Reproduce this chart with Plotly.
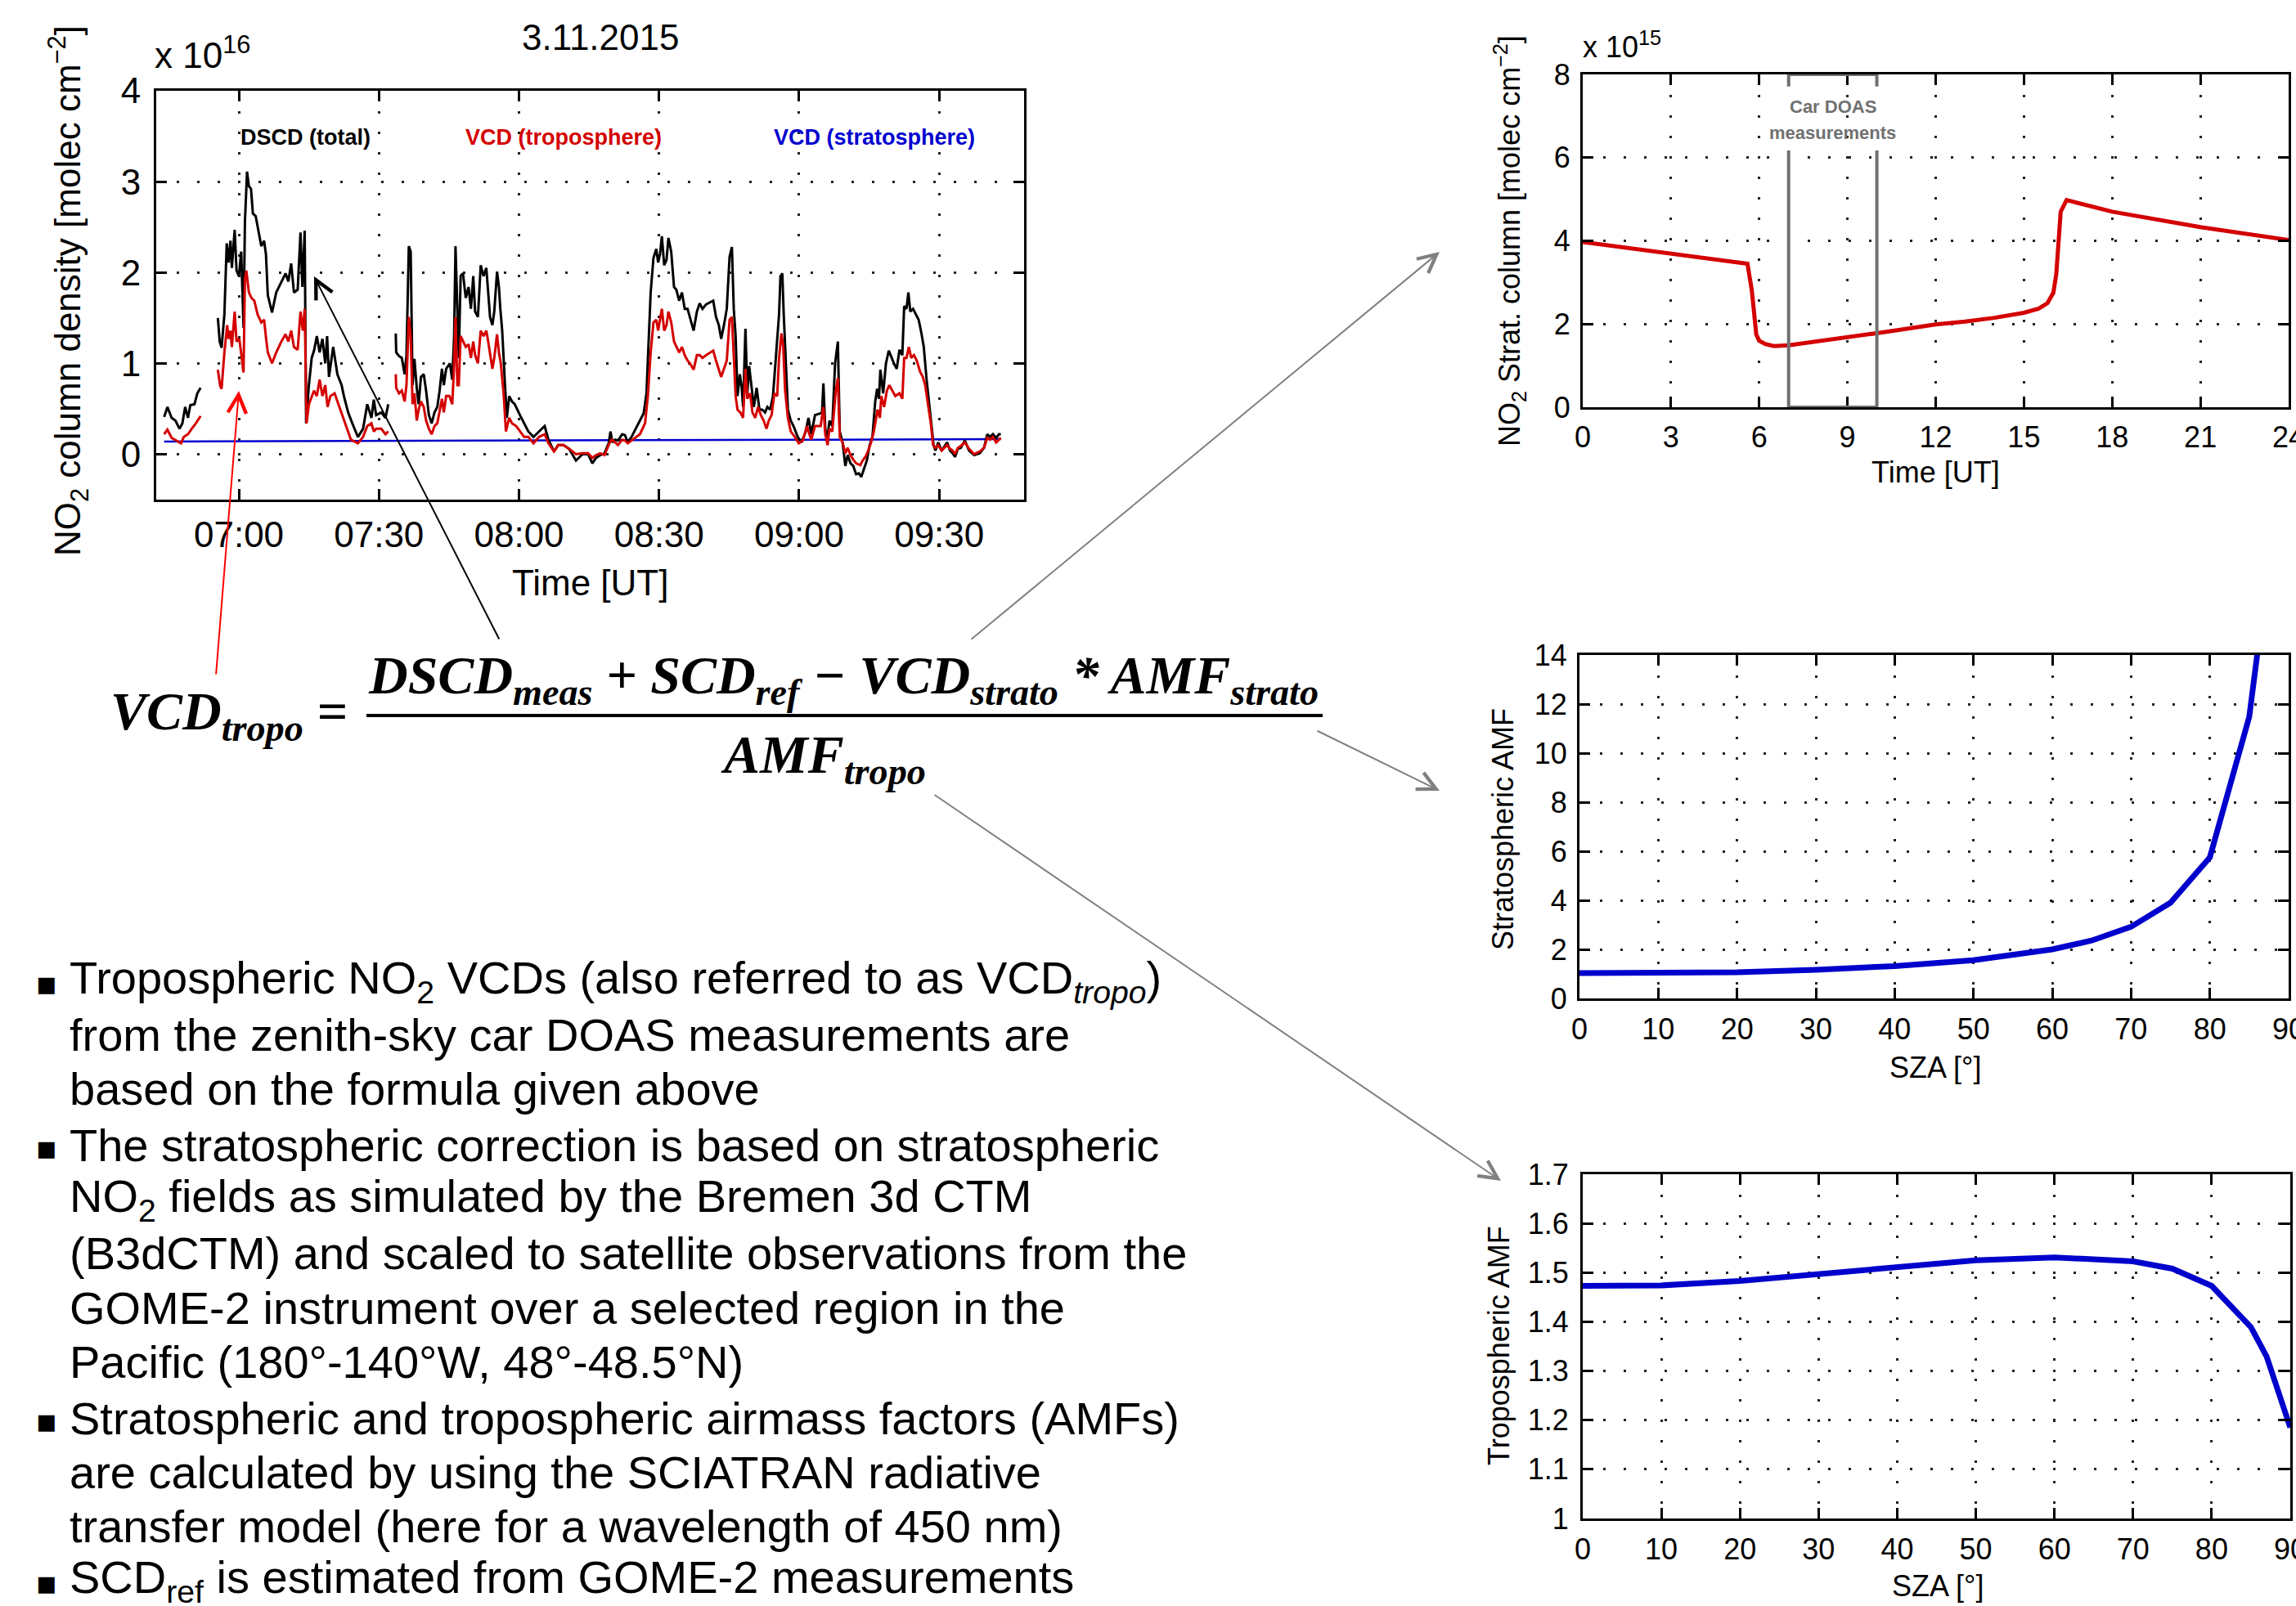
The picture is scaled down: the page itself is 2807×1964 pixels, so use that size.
import plotly.graph_objects as go

W, H = 2807, 1964

# ---------------- data ----------------
# Left panel: time in minutes after 07:00 UT, values in 1e16 molec cm-2 (None = gap)
t_dscd = [-16.0, -15.3, -14.4, -13.6, -12.7, -12.1, -11.5, -10.9, -10.4, -9.5, -8.9, -8.2, None,
          -6.7, None,
          -4.5, -4.1, -3.7, -3.1, -2.6, -2.2, -1.8, -1.5, -0.9, -0.5, 0.0, 0.5, 1.0, 1.3, 1.75, 2.15, 2.6,
          3.0, 3.6, 4.2, 4.8, 5.4, 5.8, 6.2, 7.1, 8.0, 9.1, 10.0, 10.6, 11.2, 11.8, 12.6, 13.2, 13.6, 14.1,
          14.4, 15.0, 15.6, 16.1, 16.7, 17.3, 17.9, 18.5, 18.9, 19.3, 20.2, 21.1, 22.0, 22.5, 23.4, 24.3,
          25.5, 26.6, 27.5, 28.4, 28.9, 29.4, 30.5, 31.4, 32.0, None,
          33.6, 33.7, 34.3, 34.9, 35.5, 35.9, 36.4, 36.8, 37.2, 37.6, 38.1, 38.5, 39.0, 39.6, 40.1, 40.7,
          41.3, 41.9, 42.5, 43.0, 43.5, 43.9, 44.4, 44.8, 45.2, 45.7, 46.1, 46.4, 46.8, 47.1, 47.5, 48.0,
          48.6, 49.2, 49.7, 50.2, 50.6, 51.2, 51.8, 52.4, 53.0, 53.4, 53.8, 54.3, 54.7, 55.3, 55.7, 56.0,
          56.4, 57.0, 57.4, 57.9, 58.5, 59.1, 59.6, 60.2, 61.1, 62.0, 63.1, 64.3, 65.5, 66.3, 67.5, 68.4,
          69.5, 70.7, 72.2, 73.6, 74.8, 75.7, 76.5, 77.4, 78.3, 79.2, 79.6, 80.0, 80.6, 81.2, 82.1, 82.7,
          83.3, 84.1, 85.3, 86.7, 87.3, 88.2, 88.8, 89.4, 89.8, 90.2, 90.6, 91.1, 91.6, 92.0, 92.6, 93.2,
          93.7, 94.3, 94.9, 95.5, 96.1, 96.6, 97.4, 98.1, 98.7, 99.3, 100.1, 101.6, 102.2, 102.8, 103.3,
          103.9, 104.5, 105.1, 105.6, 106.0, 106.4, 106.8, 107.3, 107.7, 108.0, 108.5, 108.9, 109.3, 109.8,
          110.3, 110.9, 111.5, 112.1, 112.7, 113.2, 113.8, 114.4, 114.9, 115.3, 115.7, 116.0, 116.4, 116.7,
          117.2, 117.6, 118.2, 118.8, 119.7, 120.5, 121.4, 122.0, 122.6, 123.4, 124.6, 124.9, 125.2, 125.6,
          126.0, 126.5, 127.1, 127.7, 128.3, 128.7, 129.3, 129.9, 130.4, 131.0, 131.6, 132.2, 132.8, 133.3,
          133.9, 134.5, 135.1, 135.7, 136.3, 136.7, 137.1, 137.4, 138.0, 138.6, 139.2, 139.8, 140.3, 140.9,
          141.5, 142.1, 142.5, 143.0, 143.4, 143.8, 144.4, 145.0, 145.6, 146.2, 146.7, 147.3, 147.9, 148.3,
          148.8, 149.2, 149.8, 150.5, 151.1, 151.7, 152.3, 152.9, 153.4, 154.0, 154.6, 155.5, 156.4, 157.5,
          158.7, 159.6, 160.3, 160.9, 161.5, 162.2, 162.8, 163.2]
dscd = [0.41, 0.52, 0.40, 0.37, 0.28, 0.34, 0.52, 0.40, 0.54, 0.55, 0.67, 0.73, None,
        0.90, None,
        1.50, 1.24, 1.17, 1.54, 2.32, 2.11, 2.35, 2.05, 2.47, 2.02, 1.96, 2.23, 1.39, 2.56, 3.11, 2.95, 2.92,
        2.65, 2.62, 2.44, 2.29, 2.35, 2.20, 1.75, 1.56, 1.78, 1.90, 1.99, 1.90, 2.10, 1.78, 1.81, 2.44, 1.84, 2.46,
        0.34, 0.76, 1.06, 1.14, 1.30, 1.12, 1.27, 1.00, 1.30, 0.85, 1.18, 0.88, 0.76, 0.64, 0.46, 0.34,
        0.19, 0.28, 0.55, 0.40, 0.60, 0.43, 0.46, 0.40, 0.55, None,
        1.33, 1.12, 1.08, 1.06, 0.88, 1.09, 2.29, 2.23, 0.76, 1.05, 0.73, 0.55, 0.85, 0.88, 0.70, 0.43,
        0.34, 0.46, 0.52, 0.70, 0.94, 0.76, 0.94, 0.97, 1.00, 0.82, 1.30, 2.29, 1.54, 1.06, 1.96, 1.99,
        1.72, 1.84, 1.60, 1.96, 1.57, 1.51, 2.08, 1.96, 2.05, 1.78, 1.51, 1.42, 1.57, 2.01, 1.84, 1.60,
        1.36, 0.76, 0.40, 0.64, 0.58, 0.55, 0.49, 0.43, 0.34, 0.25, 0.19, 0.25, 0.31, 0.16, 0.03, 0.10,
        0.10, 0.06, -0.07, 0.00, 0.00, -0.10, -0.04, -0.01, 0.01, 0.12, 0.25, 0.13, 0.16, 0.15, 0.22, 0.21,
        0.13, 0.19, 0.31, 0.45, 0.67, 1.78, 2.16, 2.26, 2.11, 2.20, 2.40, 2.08, 2.14, 2.38, 2.23, 1.84,
        1.81, 1.69, 1.78, 1.60, 1.60, 1.51, 1.36, 1.57, 1.66, 1.60, 1.65, 1.69, 1.51, 1.42, 1.27,
        1.42, 1.60, 2.17, 2.28, 1.60, 1.30, 0.64, 0.88, 0.73, 0.52, 1.38, 0.67, 0.97, 0.76,
        0.52, 0.73, 0.49, 0.49, 0.46, 0.52, 0.49, 0.64, 0.97, 1.27, 1.54, 1.96, 1.99, 1.54,
        0.94, 0.49, 0.37, 0.31, 0.19, 0.13, 0.25, 0.40, 0.22, 0.43, 0.45, 0.46, 0.78, 0.28,
        0.16, 0.37, 0.31, 1.00, 1.24, 0.25, 0.13, -0.13, -0.01, -0.10, -0.13, -0.22, -0.21, -0.25,
        -0.16, -0.07, 0.10, 0.19, 0.58, 0.72, 0.61, 0.93, 0.67, 1.00, 1.14, 1.06, 1.00, 0.94,
        1.15, 1.09, 1.63, 1.60, 1.78, 1.57, 1.60, 1.54, 1.48, 1.33, 1.18, 0.82, 0.55, 0.34,
        0.10, 0.04, 0.13, 0.04, 0.09, 0.13, 0.04, 0.01, -0.03, 0.06, 0.07, 0.15, 0.04, -0.01,
        0.01, 0.07, 0.22, 0.19, 0.22, 0.18, 0.22, 0.22]

t_vcd = [-16.0, -15.3, -14.4, -13.3, -12.4, -11.8, -10.9, -10.1, -9.2, -8.2, None,
         -6.7, None,
         -4.5, -4.0, -3.7, -3.1, -2.5, -2.2, -1.8, -1.5, -0.9, -0.5, 0.1, 0.5, 1.0, 1.3, 1.6, 2.15, 2.7,
         3.3, 4.0, 4.8, 5.4, 5.9, 6.2, 7.1, 8.0, 9.1, 10.0, 10.6, 11.2, 11.8, 12.6, 13.2, 13.7, 14.1,
         14.5, 15.0, 15.6, 16.1, 16.7, 17.3, 17.9, 18.5, 19.0, 19.6, 20.5, 21.1, 22.0, 23.1, 24.0,
         25.5, 26.6, 27.5, 28.4, 28.9, 29.4, 30.5, 31.4, 32.0, None,
         33.6, 33.7, 34.3, 34.9, 35.5, 35.9, 36.4, 36.8, 37.2, 37.6, 38.1, 38.5, 39.0, 39.6, 40.1, 40.7,
         41.3, 41.9, 42.5, 43.0, 43.5, 43.9, 44.4, 45.1, 45.7, 46.1, 46.4, 46.8, 47.1, 47.5, 48.0,
         48.6, 49.2, 49.7, 50.2, 50.6, 51.2, 51.8, 52.4, 53.0, 53.4, 53.8, 54.3, 54.7, 55.3, 55.7, 56.1,
         56.7, 57.2, 57.9, 58.5, 59.4, 60.2, 61.1, 62.0, 63.1, 64.3, 65.5, 66.3, 67.5, 68.4,
         69.5, 70.7, 72.2, 73.6, 74.8, 75.7, 76.5, 77.4, 78.3, 79.2, 79.8, 80.6, 81.2, 82.1, 82.7,
         83.3, 84.4, 85.9, 87.0, 87.6, 88.2, 88.8, 89.4, 89.8, 90.2, 90.6, 91.1, 91.6, 92.0, 92.6, 93.2,
         93.7, 94.3, 94.9, 95.5, 96.1, 96.6, 97.4, 98.1, 98.7, 99.3, 100.1, 101.6, 102.2, 102.8, 103.3,
         103.9, 104.5, 105.1, 105.6, 106.0, 106.4, 106.8, 107.4, 108.0, 108.5, 108.9, 109.5, 110.0,
         110.6, 111.2, 111.8, 112.4, 113.0, 113.5, 114.1, 114.7, 115.3, 115.7, 116.2, 116.6,
         117.0, 117.6, 118.2, 119.1, 119.9, 120.8, 121.7, 122.0, 122.6, 123.4, 124.6, 125.2, 125.6,
         126.1, 126.5, 127.1, 127.8, 128.3, 128.7, 129.3, 129.9, 130.4, 131.0, 131.6, 132.2, 133.1,
         133.6, 134.2, 134.8, 135.4, 136.0, 136.4, 136.8, 137.3, 137.6, 138.2, 138.8, 139.3, 139.9, 140.6,
         141.5, 142.1, 142.5, 143.0, 143.5, 144.0, 144.6, 145.2, 145.9, 146.5, 147.0, 147.6, 148.2,
         148.7, 149.2, 149.8, 150.5, 151.1, 151.7, 152.3, 152.9, 153.4, 154.0, 154.6, 155.5, 156.4, 157.5,
         158.7, 159.6, 160.3, 160.9, 161.5, 162.2, 162.8, 163.2]
vcd_tropo = [0.22, 0.27, 0.18, 0.15, 0.12, 0.19, 0.22, 0.28, 0.34, 0.42, None,
             0.54, None,
             0.93, 0.75, 0.72, 1.12, 1.42, 1.27, 1.36, 1.18, 1.57, 1.24, 1.27, 1.12, 0.90, 1.93, 2.02, 1.78, 1.72,
             1.69, 1.54, 1.45, 1.48, 1.24, 1.12, 1.00, 1.12, 1.24, 1.32, 1.24, 1.36, 1.18, 1.15, 1.57, 1.36, 1.60,
             0.34, 0.55, 0.64, 0.70, 0.64, 0.82, 0.64, 0.76, 0.52, 0.64, 0.67, 0.58, 0.46, 0.28, 0.16,
             0.12, 0.19, 0.31, 0.34, 0.25, 0.28, 0.28, 0.22, 0.25, None,
             0.88, 0.73, 0.67, 0.70, 0.58, 0.76, 1.51, 1.30, 0.55, 0.67, 0.37, 0.49, 0.58, 0.52, 0.37, 0.28,
             0.22, 0.31, 0.34, 0.46, 0.61, 0.46, 0.64, 0.64, 0.55, 0.97, 1.51, 0.76, 0.76, 1.30, 1.24,
             1.18, 1.21, 1.06, 1.24, 1.09, 1.00, 1.36, 1.30, 1.36, 1.24, 1.09, 0.94, 1.06, 1.32, 1.12, 1.00,
             0.67, 0.25, 0.40, 0.34, 0.31, 0.25, 0.19, 0.19, 0.12, 0.19, 0.22, 0.12, 0.03, 0.10,
             0.10, 0.06, 0.00, 0.01, 0.01, -0.04, -0.01, 0.01, -0.01, 0.10, 0.16, 0.13, 0.10, 0.16, 0.15,
             0.12, 0.16, 0.22, 0.34, 0.64, 1.12, 1.45, 1.48, 1.36, 1.48, 1.60, 1.36, 1.42, 1.57, 1.45, 1.24,
             1.18, 1.12, 1.18, 1.09, 1.03, 1.00, 0.93, 1.09, 1.09, 1.06, 1.09, 1.14, 1.03, 0.94, 0.85,
             0.94, 1.03, 1.48, 1.51, 1.09, 0.64, 0.49, 0.46, 0.40, 0.94, 0.61, 0.67, 0.46,
             0.40, 0.52, 0.43, 0.37, 0.28, 0.37, 0.43, 0.67, 0.64, 1.06, 1.33, 1.18,
             0.70, 0.40, 0.25, 0.19, 0.12, 0.15, 0.31, 0.25, 0.16, 0.31, 0.31, 0.52, 0.22,
             0.10, 0.28, 0.25, 0.67, 0.84, 0.19, 0.13, 0.01, 0.07, -0.01, -0.06, -0.10, -0.12,
             -0.07, -0.03, 0.04, 0.13, 0.25, 0.37, 0.49, 0.40, 0.64, 0.52, 0.70, 0.76, 0.70, 0.64,
             0.67, 0.61, 1.06, 1.06, 1.18, 1.06, 1.09, 1.03, 0.91, 0.85, 0.76, 0.55, 0.34,
             0.10, 0.07, 0.10, 0.04, 0.07, 0.10, 0.06, 0.04, 0.00, 0.07, 0.09, 0.13, 0.06, 0.00,
             0.03, 0.07, 0.18, 0.16, 0.19, 0.13, 0.16, 0.18]

t_strat = [-16.0, 30.0, 60.0, 90.0, 120.0, 163.2]
vcd_strato = [0.14, 0.145, 0.15, 0.155, 0.16, 0.165]

time_tickvals = [7.0, 7.5, 8.0, 8.5, 9.0, 9.5]
time_ticktext = ["07:00", "07:30", "08:00", "08:30", "09:00", "09:30"]

# Top-right panel: stratospheric NO2 column (1e15 molec cm-2) vs hour UT
strat_hour = [0, 3, 5.6, 5.75, 5.9, 6.0, 6.2, 6.5, 6.8, 7.0, 10.0, 12.0, 13.0, 14.0, 15.0, 15.5, 15.8,
              16.0, 16.1, 16.25, 16.45, 18.0, 21.0, 24.0]
strat_col = [3.97, 3.69, 3.45, 2.8, 1.75, 1.6, 1.52, 1.47, 1.47, 1.49, 1.78, 1.99, 2.06, 2.15, 2.27, 2.37, 2.5,
             2.75, 3.2, 4.7, 4.98, 4.7, 4.33, 4.02]
car_doas_window = [7, 10]

# Middle-right: stratospheric AMF vs SZA
sza_strat = [0, 10, 20, 30, 40, 50, 60, 65, 70, 75, 80, 85, 90]
amf_strat = [1.03, 1.03, 1.07, 1.17, 1.32, 1.56, 2.0, 2.36, 2.92, 3.9, 5.75, 11.48, 24.0]

# Bottom-right: tropospheric AMF vs SZA
sza_trop = [0, 10, 20, 30, 40, 50, 60, 65, 70, 75, 80, 85, 87, 90]
amf_trop = [1.473, 1.474, 1.483, 1.497, 1.513, 1.525, 1.531, 1.528, 1.523, 1.508, 1.473, 1.389, 1.329, 1.185]

# ---------------- helpers ----------------
def hours(ts):
    return [None if t is None else 7 + t / 60.0 for t in ts]

def dx(a, b):
    return [a / W, b / W]

def dy(top, bottom):
    return [1 - bottom / H, 1 - top / H]

def px(xp):
    return xp / W

def py(yp):
    return 1 - yp / H

SANS = "Liberation Sans, Arial, sans-serif"

def axis_style(size, **kw):
    d = dict(showline=True, linecolor="black", linewidth=3, mirror="ticks",
             ticks="inside", ticklen=13, tickwidth=2.5, tickcolor="black",
             showgrid=True, gridcolor="#222222", gridwidth=2.5, griddash="3px,22px",
             zeroline=False, tickfont=dict(family=SANS, size=size, color="black"),
             automargin=False, ticklabeloverflow="allow", fixedrange=True)
    d.update(kw)
    return d

fig = go.Figure()

# Left panel traces
fig.add_trace(go.Scatter(x=hours(t_strat), y=vcd_strato, mode="lines",
                         line=dict(color="#0000d0", width=2.5), xaxis="x", yaxis="y"))
fig.add_trace(go.Scatter(x=hours(t_dscd), y=dscd, mode="lines",
                         line=dict(color="black", width=3), xaxis="x", yaxis="y"))
fig.add_trace(go.Scatter(x=hours(t_vcd), y=vcd_tropo, mode="lines",
                         line=dict(color="#d40000", width=3), xaxis="x", yaxis="y"))

# Right panels
fig.add_trace(go.Scatter(x=strat_hour, y=strat_col, mode="lines",
                         line=dict(color="#d40000", width=5), xaxis="x2", yaxis="y2"))
fig.add_trace(go.Scatter(x=sza_strat, y=amf_strat, mode="lines",
                         line=dict(color="#0000cc", width=7), xaxis="x3", yaxis="y3"))
fig.add_trace(go.Scatter(x=sza_trop, y=amf_trop, mode="lines",
                         line=dict(color="#0000cc", width=7), xaxis="x4", yaxis="y4"))

fig.update_layout(
    template="none",
    width=W, height=H, autosize=False,
    margin=dict(l=0, r=0, t=0, b=0, pad=0),
    paper_bgcolor="white", plot_bgcolor="white",
    showlegend=False,
    font=dict(family=SANS, color="black"),
    xaxis=axis_style(44, domain=dx(191, 1252), range=[6.705, 9.803],
                     tickvals=time_tickvals, ticktext=time_ticktext, ticklabelstandoff=2),
    yaxis=axis_style(44, domain=dy(111, 611), range=[-0.5, 4], tickvals=[0, 1, 2, 3, 4],
                     ticklabelstandoff=7),
    xaxis2=axis_style(36, domain=dx(1935, 2798), range=[0, 24], tickvals=list(range(0, 25, 3)),
                      anchor="y2", ticklabelstandoff=3),
    yaxis2=axis_style(36, domain=dy(91, 498), range=[0, 8], tickvals=[0, 2, 4, 6, 8],
                      anchor="x2", ticklabelstandoff=5),
    xaxis3=axis_style(36, domain=dx(1931, 2798), range=[0, 90], tickvals=list(range(0, 91, 10)),
                      anchor="y3", ticklabelstandoff=4),
    yaxis3=axis_style(36, domain=dy(801, 1221), range=[0, 14], tickvals=list(range(0, 15, 2)),
                      anchor="x3", ticklabelstandoff=5),
    xaxis4=axis_style(36, domain=dx(1935, 2800), range=[0, 90], tickvals=list(range(0, 91, 10)),
                      anchor="y4", ticklabelstandoff=4),
    yaxis4=axis_style(36, domain=dy(1436, 1857), range=[1, 1.7],
                      tickvals=[1, 1.1, 1.2, 1.3, 1.4, 1.5, 1.6, 1.7],
                      ticktext=["1", "1.1", "1.2", "1.3", "1.4", "1.5", "1.6", "1.7"],
                      anchor="x4", ticklabelstandoff=7),
)

ann = []

def text(x, y, s, size, color="black", family=SANS, xanchor="center", yanchor="middle", angle=0):
    ann.append(dict(x=px(x), y=py(y), xref="paper", yref="paper", text=s, showarrow=False,
                    xanchor=xanchor, yanchor=yanchor, textangle=angle, borderpad=0,
                    font=dict(family=family, size=size, color=color)))

# Titles / axis labels (left panel)
text(734, 45, "3.11.2015", 44)
text(188, 65, "x 10<sup>16</sup>", 44, xanchor="left")
text(721, 712, "Time [UT]", 44)
text(83, 356, "NO<sub>2</sub> column density [molec cm<sup>\u22122</sup>]", 44, angle=-90)
text(373, 168, "<b>DSCD (total)</b>", 27)
text(689, 168, "<b>VCD (troposphere)</b>", 27, color="#d40000")
text(1069, 168, "<b>VCD (stratosphere)</b>", 27, color="#0000d0")

# Right panels labels
text(1934, 55, "x 10<sup>15</sup>", 36, xanchor="left")
text(2366, 578, "Time [UT]", 36)
text(1846, 295, "NO<sub>2</sub> Strat. column [molec cm<sup>\u22122</sup>]", 36, angle=-90)
text(2366, 1305, "SZA [\u00b0]", 36)
text(1837, 1014, "Stratospheric AMF", 36, angle=-90)
text(2369, 1939, "SZA [\u00b0]", 36)
text(1832, 1646, "Tropospheric AMF", 36, angle=-90)

# Car DOAS label (data coords of panel 2)
cx = (car_doas_window[0] + car_doas_window[1]) / 2
ann.append(dict(x=cx, y=7.22, xref="x2", yref="y2", text="<b>Car DOAS</b>", showarrow=False,
                font=dict(family=SANS, size=22, color="#707070")))
ann.append(dict(x=cx, y=6.59, xref="x2", yref="y2", text="<b>measurements</b>", showarrow=False,
                font=dict(family=SANS, size=22, color="#707070")))

# Formula
SERIF = "Liberation Serif, Times New Roman, serif"
text(134, 874, "<b><i>VCD<sub>tropo</sub> =</i></b>", 66, family=SERIF, xanchor="left")
text(1031, 830, "<b><i>DSCD<sub>meas</sub> + SCD<sub>ref</sub> \u2212 VCD<sub>strato</sub> * AMF<sub>strato</sub></i></b>",
     66, family=SERIF)
text(1006, 928, "<b><i>AMF<sub>tropo</sub></i></b>", 66, family=SERIF)

# Bullet text
lines = [
    (1199, True, "Tropospheric NO<sub>2</sub> VCDs (also referred to as VCD<sub><i>tropo</i></sub>)"),
    (1265, False, "from the zenith-sky car DOAS measurements are"),
    (1331, False, "based on the formula given above"),
    (1400, True, "The stratospheric correction is based on stratospheric"),
    (1466, False, "NO<sub>2</sub> fields as simulated by the Bremen 3d CTM"),
    (1532, False, "(B3dCTM) and scaled to satellite observations from the"),
    (1599, False, "GOME-2 instrument over a selected region in the"),
    (1665, False, "Pacific (180\u00b0-140\u00b0W, 48\u00b0-48.5\u00b0N)"),
    (1734, True, "Stratospheric and tropospheric airmass factors (AMFs)"),
    (1800, False, "are calculated by using the SCIATRAN radiative"),
    (1866, False, "transfer model (here for a wavelength of 450 nm)"),
    (1932, True, "SCD<sub>ref</sub> is estimated from GOME-2 measurements"),
]
for y, bullet, s in lines:
    text(84, y, s, 56, xanchor="left")
    if bullet:
        text(57, y + 3, "\u25aa", 40, family="DejaVu Sans")

# Arrows: (tip_x, tip_y, tail_x, tail_y, color)
arrows = [
    (292, 478, 264, 826, "#ff0000"),
    (384, 338, 611, 783, "black"),
    (1760, 308, 1186, 783, "#808080"),
    (1760, 967, 1609, 893, "#808080"),
    (1835, 1444, 1141, 971, "#808080"),
]
for tx, ty, sx, sy, c in arrows:
    ann.append(dict(x=px(tx), y=py(ty), xref="paper", yref="paper", ax=sx - tx, ay=sy - ty,
                    axref="pixel", ayref="pixel", showarrow=True, arrowhead=5, arrowsize=2.2,
                    arrowwidth=2, arrowcolor=c, text=""))

fig.update_layout(annotations=ann)

# Shapes: fraction bar and Car DOAS window
shapes = [
    dict(type="line", xref="paper", yref="paper", x0=px(448), x1=px(1617), y0=py(875), y1=py(875),
         line=dict(color="black", width=4)),
]
g = dict(color="#707070", width=4)
a, b = car_doas_window
for x0, x1, y0, y1 in [(a, b, 8, 8), (a, b, 0, 0), (a, a, 8, 7.71), (a, a, 6.17, 0),
                       (b, b, 8, 7.71), (b, b, 6.17, 0)]:
    shapes.append(dict(type="line", xref="x2", yref="y2", x0=x0, x1=x1, y0=y0, y1=y1, line=g, layer="above"))
fig.update_layout(shapes=shapes)

fig.write_html("out.html", config={"displayModeBar": False, "staticPlot": False},
               post_script="document.body.style.margin='0';")
